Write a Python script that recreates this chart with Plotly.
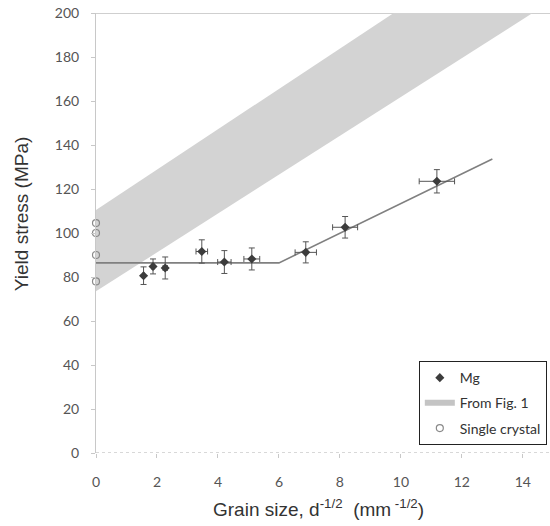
import plotly.graph_objects as go

# Mg polycrystal measurements
mg_grain = [1.56, 1.87, 2.27, 3.47, 4.21, 5.11, 6.88, 8.17, 11.18]
mg_stress = [80.6, 84.8, 84.1, 91.6, 86.8, 88.2, 91.2, 102.6, 123.5]
mg_stress_err = [4.0, 3.4, 5.0, 5.3, 5.2, 5.0, 4.8, 4.9, 5.3]
mg_grain_err = [0.03, 0.05, 0.07, 0.19, 0.22, 0.26, 0.35, 0.41, 0.58]

# Fitted trend: plateau then Hall-Petch rise
fit_grain = [0, 6.0, 13.0]
fit_stress = [86.4, 86.4, 133.6]

# Band taken from Fig. 1 (lower and upper bounds)
band_grain = [0, 15]
band_low = [73.5, 206.0]
band_high = [110.5, 248.0]

# Single crystal values
sc_grain = [0, 0, 0, 0]
sc_stress = [104.5, 100.0, 90.0, 78.0]

x_ticks = [0, 2, 4, 6, 8, 10, 12, 14]
y_ticks = [0, 20, 40, 60, 80, 100, 120, 140, 160, 180, 200]

BAND = "#d3d3d3"
fig = go.Figure()

fig.add_trace(go.Scatter(x=band_grain, y=band_low, mode="lines",
                         line=dict(width=0, color=BAND), showlegend=False,
                         hoverinfo="skip"))
fig.add_trace(go.Scatter(x=band_grain, y=band_high, mode="lines",
                         line=dict(width=0, color=BAND), fill="tonexty",
                         fillcolor=BAND, showlegend=False, hoverinfo="skip"))

fig.add_trace(go.Scatter(x=fit_grain, y=fit_stress, mode="lines",
                         line=dict(color="#808080", width=1.6),
                         showlegend=False))

fig.add_trace(go.Scatter(
    x=mg_grain, y=mg_stress, mode="markers", name="Mg",
    legendgroup="a",
    marker=dict(symbol="diamond", size=7, color="#3c3c3c"),
    error_y=dict(type="data", array=mg_stress_err, color="#555555",
                 thickness=1, width=3),
    error_x=dict(type="data", array=mg_grain_err, color="#555555",
                 thickness=1, width=3),
))

# legend entry for the band, drawn as a thick grey stroke
fig.add_trace(go.Scatter(x=[None], y=[None], mode="lines", name="From Fig. 1",
                         legendgroup="b",
                         line=dict(color="#c4c4c4", width=6)))

fig.add_trace(go.Scatter(
    x=sc_grain, y=sc_stress, mode="markers", name="Single crystal",
    legendgroup="c", cliponaxis=False,
    marker=dict(symbol="circle-open", size=7, color="#8a8a8a",
                line=dict(width=1.2, color="#8a8a8a")),
))

# frame lines: top edge at 200 and dotted baseline at 0
fig.add_shape(type="line", xref="paper", x0=0, x1=1, yref="y", y0=200, y1=200,
              line=dict(color="#a0a0a0", width=1.2), layer="below")
fig.add_shape(type="line", xref="paper", x0=0, x1=1, yref="y", y0=0, y1=0,
              line=dict(color="#b0b0b0", width=1, dash="dot"), layer="below")

tick_font = dict(family="Lato", size=14, color="#555555")
fig.update_xaxes(range=[0, 14.89], tickvals=x_ticks, showgrid=False,
                 zeroline=False, showline=False, ticks="outside", ticklen=4,
                 tickcolor="#c8c8c8", tickfont=tick_font,
                 ticklabelstandoff=12)
fig.update_yaxes(range=[0, 200], tickvals=y_ticks, showgrid=False,
                 zeroline=False, showline=True, linecolor="#c8c8c8",
                 linewidth=1, ticks="outside", ticklen=4,
                 tickcolor="#c8c8c8", tickfont=tick_font,
                 ticklabelstandoff=9)

title_font = dict(family="Liberation Sans, Arial", size=19, color="#333333")
fig.add_annotation(text="Grain size, d<sup>-1/2</sup>  (mm<sup> -1/2</sup>)",
                   xref="paper", yref="paper", x=0.49, y=-0.125,
                   xanchor="center", yanchor="middle", showarrow=False,
                   font=title_font)
fig.add_annotation(text="Yield stress (MPa)", textangle=-90,
                   xref="paper", yref="paper", x=-0.165, y=0.543,
                   xanchor="center", yanchor="middle", showarrow=False,
                   font=title_font)

fig.update_layout(
    width=550, height=526,
    margin=dict(l=96, r=0, t=13, b=73),
    paper_bgcolor="white", plot_bgcolor="white",
    legend=dict(x=0.993, y=0.209, xanchor="right", yanchor="top",
                bordercolor="#222222", borderwidth=1, bgcolor="white",
                font=dict(family="Lato", size=14, color="#333333"),
                traceorder="grouped", tracegroupgap=4, itemwidth=30),
)

fig.write_html("out.html")
